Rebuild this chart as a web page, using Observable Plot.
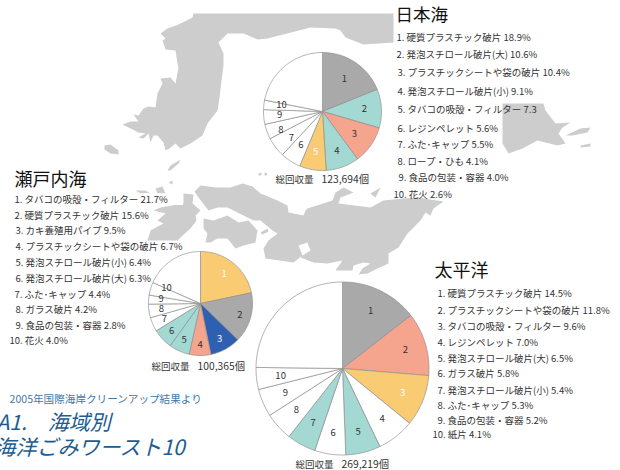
<!DOCTYPE html>
<html>
<head>
<meta charset="utf-8">
<script src="https://cdn.jsdelivr.net/npm/d3@7"></script>
<script src="https://cdn.jsdelivr.net/npm/@observablehq/plot@0.6"></script>
<style>html,body{margin:0;padding:0;background:#fff;overflow:hidden}svg{display:block}</style>
</head>
<body>
<script>
const GREY="#a9a9a9",TEAL="#a3d9d2",SALMON="#f5a48e",YELLOW="#f9cc74",BLUE="#2f5fb0",WHITE="#ffffff";

// ---- series ----
const japanNames=["硬質プラスチック破片","発泡スチロール破片(大)","プラスチックシートや袋の破片","発泡スチロール破片(小)","タバコの吸殻・フィルター","レジンペレット","ふた･キャップ","ロープ・ひも","食品の包装・容器","花火"];
const japanValues=[18.9,10.6,10.4,9.1,7.3,5.6,5.5,4.1,4.0,2.6];
const japanColors=[GREY,TEAL,SALMON,TEAL,YELLOW,WHITE,WHITE,WHITE,WHITE,WHITE];
const setoNames=["タバコの吸殻・フィルター","硬質プラスチック破片","カキ養殖用パイプ","プラスチックシートや袋の破片","発泡スチロール破片(小)","発泡スチロール破片(大)","ふた･キャップ","ガラス破片","食品の包装・容器","花火"];
const setoValues=[21.7,15.6,9.5,6.7,6.4,6.3,4.4,4.2,2.8,4.0];
const setoColors=[YELLOW,GREY,BLUE,SALMON,TEAL,TEAL,WHITE,WHITE,WHITE,WHITE];
const pacificNames=["硬質プラスチック破片","プラスチックシートや袋の破片","タバコの吸殻・フィルター","レジンペレット","発泡スチロール破片(大)","ガラス破片","発泡スチロール破片(小)","ふた･キャップ","食品の包装・容器","紙片"];
const pacificValues=[14.5,11.8,9.6,7.0,6.5,5.8,5.4,5.3,5.2,4.1];
const pacificColors=[GREY,SALMON,YELLOW,WHITE,TEAL,WHITE,TEAL,WHITE,WHITE,WHITE];

// ---- layout ----
const regions=[
 {title:"日本海",titleSize:17.5,total:"123,694個",names:japanNames,values:japanValues,colors:japanColors,cx:322,cy:111,r:59,
  labelR:[.66,.71,.66,.71,.7,.68,.66,.75,.73,.7],labelDy:[0,0,0,0,0,0,3,3,-1,-2],
  titleX:395,titleY:15,listX:[396,396,397,397,397,397,397,397,398,393],listY:[37,54,72,91,109,128,144,161,177,194],
  totalX:275,numX:321,totalY:179,noPct:[4]},
 {title:"瀬戸内海",titleSize:18,total:"100,365個",names:setoNames,values:setoValues,colors:setoColors,cx:200,cy:303,r:52,
  labelR:[.72,.79,.77,.79,.77,.76,.76,.76,.76,.68],labelDy:[0,0,0,0,0,0,0,0,-2,-5],
  titleX:14,titleY:180,listX:[14,14,15,15,15,15,14,15,15,9],listY:[199,215,230,246,262,278,294,309,325,340],
  totalX:151,numX:197,totalY:366,noPct:[]},
 {title:"太平洋",titleSize:18,total:"269,219個",names:pacificNames,values:pacificValues,colors:pacificColors,cx:342,cy:368,r:86.5,
  labelR:[.74,.76,.75,.74,.75,.75,.71,.72,.72,.72],labelDy:[0,0,0,0,0,0,0,0,0,0],
  titleX:434,titleY:271,listX:[437,437,437,437,437,437,437,437,437,432],listY:[293,310,326,342,358,373,390,405,420,434],
  totalX:295,numX:341,totalY:464,noPct:[]}
];

// ---- map outlines ----
const korea=[[193,13],[393,13],[393,42],[363,44],[345,37],[340,30],[335,28],[310,27],[267,38],[257,39],[243,33],[227,33],[218,42],[223,53],[223,65],[221,80],[219,97],[217,110],[207,123],[202,135],[190,143],[180,148],[175,143],[169,148],[165,150],[163,142],[157,135],[153,135],[150,142],[148,133],[143,138],[138,137],[145,133],[138,132],[130,128],[122,124],[130,121],[138,121],[133,114],[138,115],[143,108],[148,106],[155,107],[157,93],[162,83],[160,78],[170,77],[175,83],[178,67],[177,63],[175,50],[165,49],[162,40],[165,38],[160,33],[167,28],[178,24],[192,17]];
const honshu=[[194,191],[200,185],[215,187],[230,187],[242,183],[252,186],[260,193],[277,200],[287,205],[288,212],[303,215],[305,210],[307,208],[332,200],[335,192],[343,187],[353,192],[340,197],[338,203],[370,207],[383,200],[403,198],[417,197],[443,201],[433,208],[430,215],[425,212],[420,220],[407,233],[398,247],[388,253],[388,263],[377,268],[367,273],[358,274],[362,268],[370,263],[363,262],[353,265],[352,270],[340,270],[335,270],[342,260],[327,263],[313,262],[300,257],[302,255],[310,250],[307,242],[298,245],[302,255],[293,262],[265,258],[263,248],[268,240],[277,233],[272,230],[260,220],[253,220],[237,212],[227,207],[217,207],[208,210],[198,197]];
const kyushu=[[183,193],[193,194],[192,203],[200,210],[195,215],[196,220],[190,228],[182,235],[177,240],[147,240],[150,230],[163,223],[157,220],[165,213],[153,210],[160,207],[183,203]];
const shikoku=[[203,218],[213,220],[227,215],[238,222],[248,220],[257,230],[255,242],[243,245],[235,248],[227,238],[217,238],[210,242],[205,242],[207,233],[203,228]];
const hokkaido=[[502,103],[543,103],[545,110],[555,123],[570,122],[562,127],[558,133],[565,143],[557,145],[537,140],[522,148],[508,153],[502,143]];
const islands=[
 [[104,145],[110,144],[118,150],[118,154],[110,153],[104,149]],
 [[167,170],[170,165],[180,159],[178,163],[170,170]],
 [[258,173],[261,172],[261,175],[258,175]],
 [[264,172],[267,173],[266,175],[264,175]],
 [[135,190],[145,190],[150,193],[140,193]],
 [[155,188],[162,186],[165,193],[157,193]],
 [[168,182],[172,180],[172,184]],
 [[260,232],[267,228],[268,231],[262,234]],
 [[370,193],[380,187],[375,197],[372,195]],
 [[565,135],[580,128],[590,127],[587,132],[572,135]],
 [[580,145],[590,143],[590,146],[580,147]]
];
const labelMasks=[{x1:10,x2:183,y1:193,y2:205},{x1:10,x2:152,y1:207,y2:222}];

const landRows=[korea,honshu,kyushu,shikoku,hokkaido,...islands].flatMap((poly,i)=>poly.map(([x,y])=>({x,y,id:i})));

// ---- pie wedges from the values (percent of the total) ----
const wedges=[],pieLabels=[],listRows=[],totalRows=[],numRows=[],titleRows=[];
regions.forEach((g,gi)=>{
  const rest=+(100-d3.sum(g.values)).toFixed(1);
  const vals=[...g.values,rest],cols=[...g.colors,WHITE];
  let acc=0;
  vals.forEach((v,i)=>{
    const a0=acc/100*2*Math.PI,a1=(acc+v)/100*2*Math.PI;acc+=v;
    const id=gi+"-"+i,n=Math.max(2,Math.ceil((a1-a0)/0.02));
    wedges.push({x:g.cx,y:g.cy,id,c:cols[i]});
    for(let k=0;k<=n;k++){const a=a0+(a1-a0)*k/n;
      wedges.push({x:g.cx+g.r*Math.sin(a),y:g.cy-g.r*Math.cos(a),id,c:cols[i]});}
    wedges.push({x:g.cx,y:g.cy,id,c:cols[i]});
    if(i<10){const m=(a0+a1)/2,lr=g.r*g.labelR[i];
      pieLabels.push({x:g.cx+lr*Math.sin(m),y:g.cy-lr*Math.cos(m)+g.labelDy[i],t:String(i+1),
        fill:(cols[i]===YELLOW||cols[i]===BLUE)?"#ffffff":"#333333"});}
  });
  g.names.forEach((n,i)=>listRows.push({x:g.listX[i],y:g.listY[i],
    t:`${i+1}. ${n} ${g.values[i].toFixed(1)}${g.noPct.includes(i)?"":"%"}`}));
  totalRows.push({x:g.totalX,y:g.totalY,t:"総回収量"});
  numRows.push({x:g.numX,y:g.totalY,t:g.total});
  titleRows.push({x:g.titleX,y:g.titleY,t:g.title,s:g.titleSize});
});

const FONT="'Noto Sans CJK JP','Noto Sans',sans-serif";
const txt=(rows,o)=>Plot.text(rows,{x:"x",y:"y",text:"t",textAnchor:"start",lineAnchor:"middle",fontFamily:FONT,...o});

const chart=Plot.plot({
  width:620,height:470,margin:0,
  x:{domain:[0,620],range:[0,620],axis:null},
  y:{domain:[0,470],range:[0,470],axis:null},
  color:{type:"identity"},
  style:{background:"#fff"},
  marks:[
    Plot.line(landRows,{x:"x",y:"y",z:"id",fill:"#cdcdcd",stroke:"none"}),
    Plot.rect(labelMasks,{x1:"x1",x2:"x2",y1:"y1",y2:"y2",fill:"#fff"}),
    Plot.line(wedges,{x:"x",y:"y",z:"id",fill:"c",stroke:"#8f8f8f",strokeWidth:0.7,strokeLinejoin:"round"}),
    Plot.text(pieLabels,{x:"x",y:"y",text:"t",fill:"fill",fontSize:9.5,fontFamily:FONT}),
    txt(listRows,{fontSize:9.5,fill:"#333"}),
    txt(totalRows,{fontSize:9.5,fill:"#333"}),
    txt(numRows,{fontSize:10.3,fill:"#333"}),
    txt(titleRows.slice(0,1),{fontSize:17.5,fill:"#111"}),
    txt(titleRows.slice(1),{fontSize:18,fill:"#111"}),
    txt([{x:9,y:399,t:"2005年国際海岸クリーンアップ結果より"}],{fontSize:10.6,fill:"#3f78a8"}),
    txt([{x:-4,y:423,t:"A1.　海域別"},{x:-6,y:448,t:"海洋ごみワースト10"}],{fontSize:21,fontStyle:"italic",fill:"#1d5c92"})
  ]
});
document.body.appendChild(chart);
</script>
</body>
</html>
